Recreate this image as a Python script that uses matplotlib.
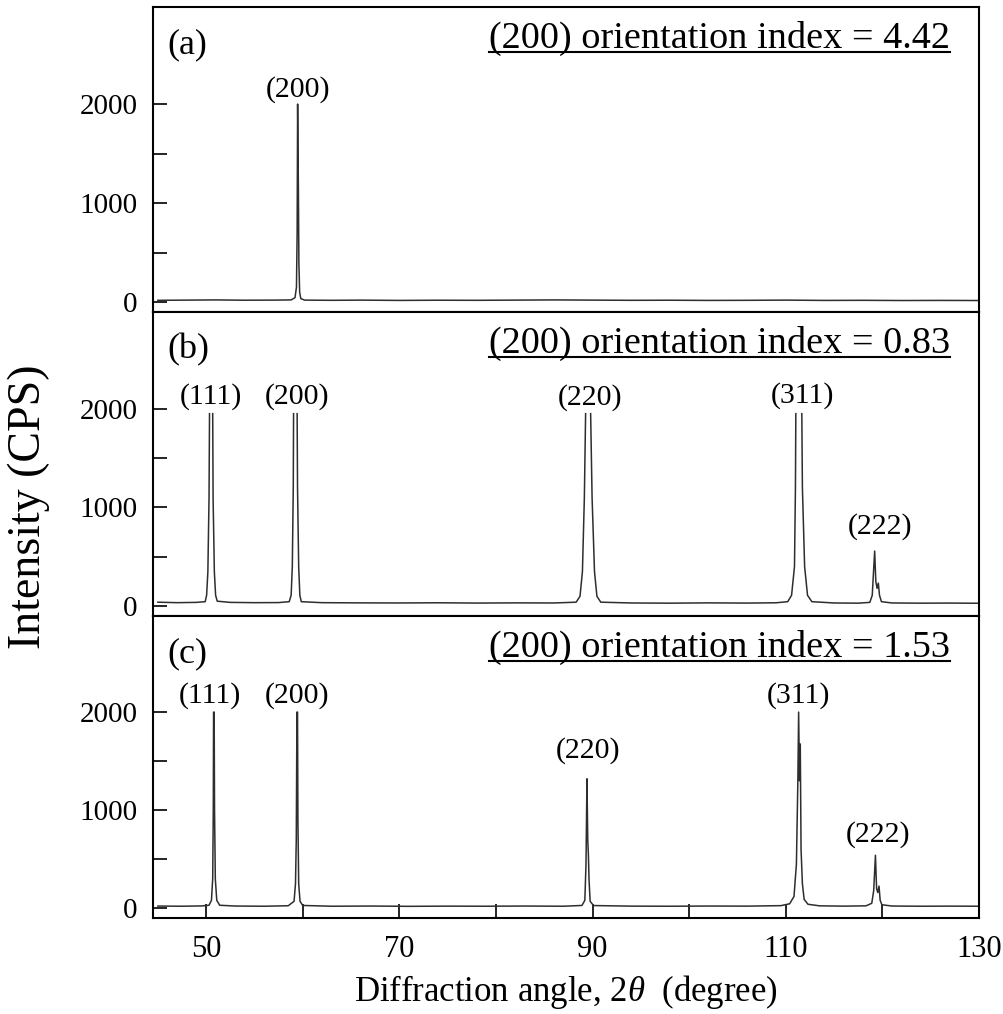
import numpy as np
import matplotlib
matplotlib.use('Agg')
import matplotlib.pyplot as plt
from matplotlib.lines import Line2D

plt.rcParams['font.family'] = ['Liberation Serif', 'DejaVu Serif']
plt.rcParams['mathtext.fontset'] = 'custom'
plt.rcParams['mathtext.rm'] = 'Liberation Serif'
plt.rcParams['mathtext.it'] = 'Liberation Serif:italic'

nan = np.nan

# --- data (2theta in degree, intensity in CPS) ---
two_theta_a = [45, 48, 51, 54, 57, 58.8, 59.2, 59.35, 59.42, 59.47, 59.51, 59.55, 59.6, 59.68,
               59.8, 60.2, 63, 66, 70, 74, 78, 82, 86, 90, 94, 98, 102, 106, 110, 114,
               118, 122, 126, 130]
intensity_a = [18, 20, 22, 19, 20, 22, 45, 150, 700, 2000, 1500, 1150, 400, 100,
               35, 20, 18, 20, 17, 19, 18, 20, 22, 20, 18, 19, 17, 18, 20, 17,
               18, 16, 17, 16]

two_theta_b = [45, 47, 49, 49.9, 50.05, 50.18, 50.3, 50.35, nan, 50.68, 50.72, 50.85, 50.98, 51.15,
               52.5, 55, 57.5, 58.6, 58.8, 58.92, 59.02, 59.05, nan, 59.42, 59.46, 59.58, 59.7, 59.85,
               62, 66, 70, 74, 78, 82, 86, 88.3, 88.7, 88.95, 89.15, 89.28, nan, 89.8, 89.95, 90.2,
               90.45, 90.85, 94, 98, 102, 106, 109, 110.2, 110.6, 110.9, 111.0, 111.04, nan, 111.66,
               111.72, 111.95, 112.25, 112.7, 115, 117.5, 118.7, 118.95, 119.1, 119.2, 119.32, 119.45,
               119.58, 119.7, 119.9, 121, 124, 127, 130]
intensity_b = [40, 35, 38, 45, 110, 350, 1100, 1950, nan, 1950, 1100, 350, 110, 50,
               38, 35, 36, 45, 110, 400, 1200, 1950, nan, 1950, 1200, 400, 110, 45,
               35, 33, 32, 34, 31, 33, 32, 40, 100, 350, 1100, 1950, nan, 1950, 1100, 350,
               100, 40, 32, 30, 33, 31, 34, 45, 110, 400, 1200, 1950, nan, 1950,
               1200, 400, 110, 45, 32, 30, 38, 110, 380, 558, 250, 180,
               233, 110, 45, 32, 30, 31, 29]

two_theta_c = [45, 47.5, 49.5, 50.3, 50.55, 50.68, 50.74, 50.77, 50.83, 50.87, 50.95, 51.1, 51.4,
               53, 56, 58.5, 59.1, 59.25, 59.33, 59.4, 59.46, 59.5, 59.58, 59.72, 60.0, 63, 67, 71,
               75, 79, 83, 87, 88.9, 89.2, 89.32, 89.42, 89.5, 89.57, 89.63, 89.75, 90.1, 94, 98,
               102, 106, 109.5, 110.4, 110.85, 111.1, 111.25, 111.33, 111.42, 111.5, 111.58, 111.72,
               111.9, 112.3, 113.5, 116, 118.3, 118.9, 119.1, 119.28, 119.4, 119.52, 119.65, 119.77,
               119.95, 121, 124, 127, 130]
intensity_c = [22, 20, 23, 30, 80, 300, 1000, 2000, 2000, 1000, 300, 80, 30,
               22, 20, 25, 70, 250, 700, 2000, 2000, 900, 250, 70, 28, 20, 22, 19,
               21, 20, 22, 20, 28, 80, 450, 1320, 700, 540, 300, 70, 27, 21, 20,
               22, 21, 26, 45, 120, 450, 1300, 2000, 1300, 1675, 600, 250,
               90, 40, 24, 21, 24, 50, 180, 540, 200, 160, 225, 80,
               35, 22, 20, 21, 20]

panel_tags = ['(a)', '(b)', '(c)']
orientation_index = ['4.42', '0.83', '1.53']

peak_names_a = ['(200)']
peak_pos_a = [59.5]
peak_lab_y_a = [2010]

peak_names_b = ['(111)', '(200)', '(220)', '(311)', '(222)']
peak_pos_b = [50.5, 59.4, 89.7, 111.7, 119.8]
peak_lab_y_b = [1990, 1990, 1980, 2000, 670]

peak_names_c = ['(111)', '(200)', '(220)', '(311)', '(222)']
peak_pos_c = [50.4, 59.4, 89.5, 111.3, 119.6]
peak_lab_y_c = [2030, 2030, 1470, 2030, 610]

series = [(two_theta_a, intensity_a, peak_names_a, peak_pos_a, peak_lab_y_a),
          (two_theta_b, intensity_b, peak_names_b, peak_pos_b, peak_lab_y_b),
          (two_theta_c, intensity_c, peak_names_c, peak_pos_c, peak_lab_y_c)]

fig = plt.figure(figsize=(10.04, 10.14), dpi=100)
left, right = 153 / 1004, 979 / 1004
tops = [7, 312, 616]
bottoms = [312, 616, 918]

titles = []
axes = []
for k, (x, y, names, pos, laby) in enumerate(series):
    t, b = tops[k], bottoms[k]
    ax = fig.add_axes([left, 1 - b / 1014, right - left, (b - t) / 1014])
    axes.append(ax)
    ax.plot(x, y, color='#2e2e2e', lw=1.1)
    ax.set_xlim(44.5, 130)
    ax.set_ylim(-100, 2980)
    ax.set_yticks([0, 1000, 2000])
    ax.set_yticks([500, 1500], minor=True)
    ax.tick_params(axis='y', which='both', direction='in', length=10, width=1.2,
                   labelsize=21, pad=11)
    for sp in ax.spines.values():
        sp.set_linewidth(1.5)
    if k < 2:
        ax.tick_params(axis='x', which='both', bottom=False, labelbottom=False)
    else:
        ax.set_xticks([50, 70, 90, 110, 130])
        ax.set_xticks([60, 80, 100, 120], minor=True)
        ax.tick_params(axis='x', which='both', direction='in', length=10, width=1.2,
                       labelsize=22, pad=12)
        ax.set_xlabel(r'Diffraction angle, 2$\theta$  (degree)', fontsize=25, labelpad=7)
    ax.text(0.018, 1 - 46 / (b - t), panel_tags[k], transform=ax.transAxes,
            fontsize=26, ha='left', va='baseline')
    tt = ax.text(0.965, 1 - 41 / (b - t), '(200) orientation index = ' + orientation_index[k],
                 transform=ax.transAxes, fontsize=27.5, ha='right', va='baseline')
    titles.append(tt)
    for nm, px, py in zip(names, pos, laby):
        ax.text(px, py, nm, fontsize=21.5, ha='center', va='bottom')

fig.text(29 / 1004, 1 - 507 / 1014, 'Intensity (CPS)', rotation=90, fontsize=33,
         ha='center', va='center')

# underline the orientation index texts
fig.canvas.draw()
r = fig.canvas.get_renderer()
inv = fig.transFigure.inverted()
for tt in titles:
    bb = tt.get_window_extent(r)
    yb = tt.get_transform().transform(tt.get_position())[1] - 4
    (fx0, fy), (fx1, _) = inv.transform([(bb.x0, yb), (bb.x1, yb)])
    fig.add_artist(Line2D([fx0, fx1], [fy, fy], color='black', lw=1.5))

fig.savefig('out.png', dpi=100)
